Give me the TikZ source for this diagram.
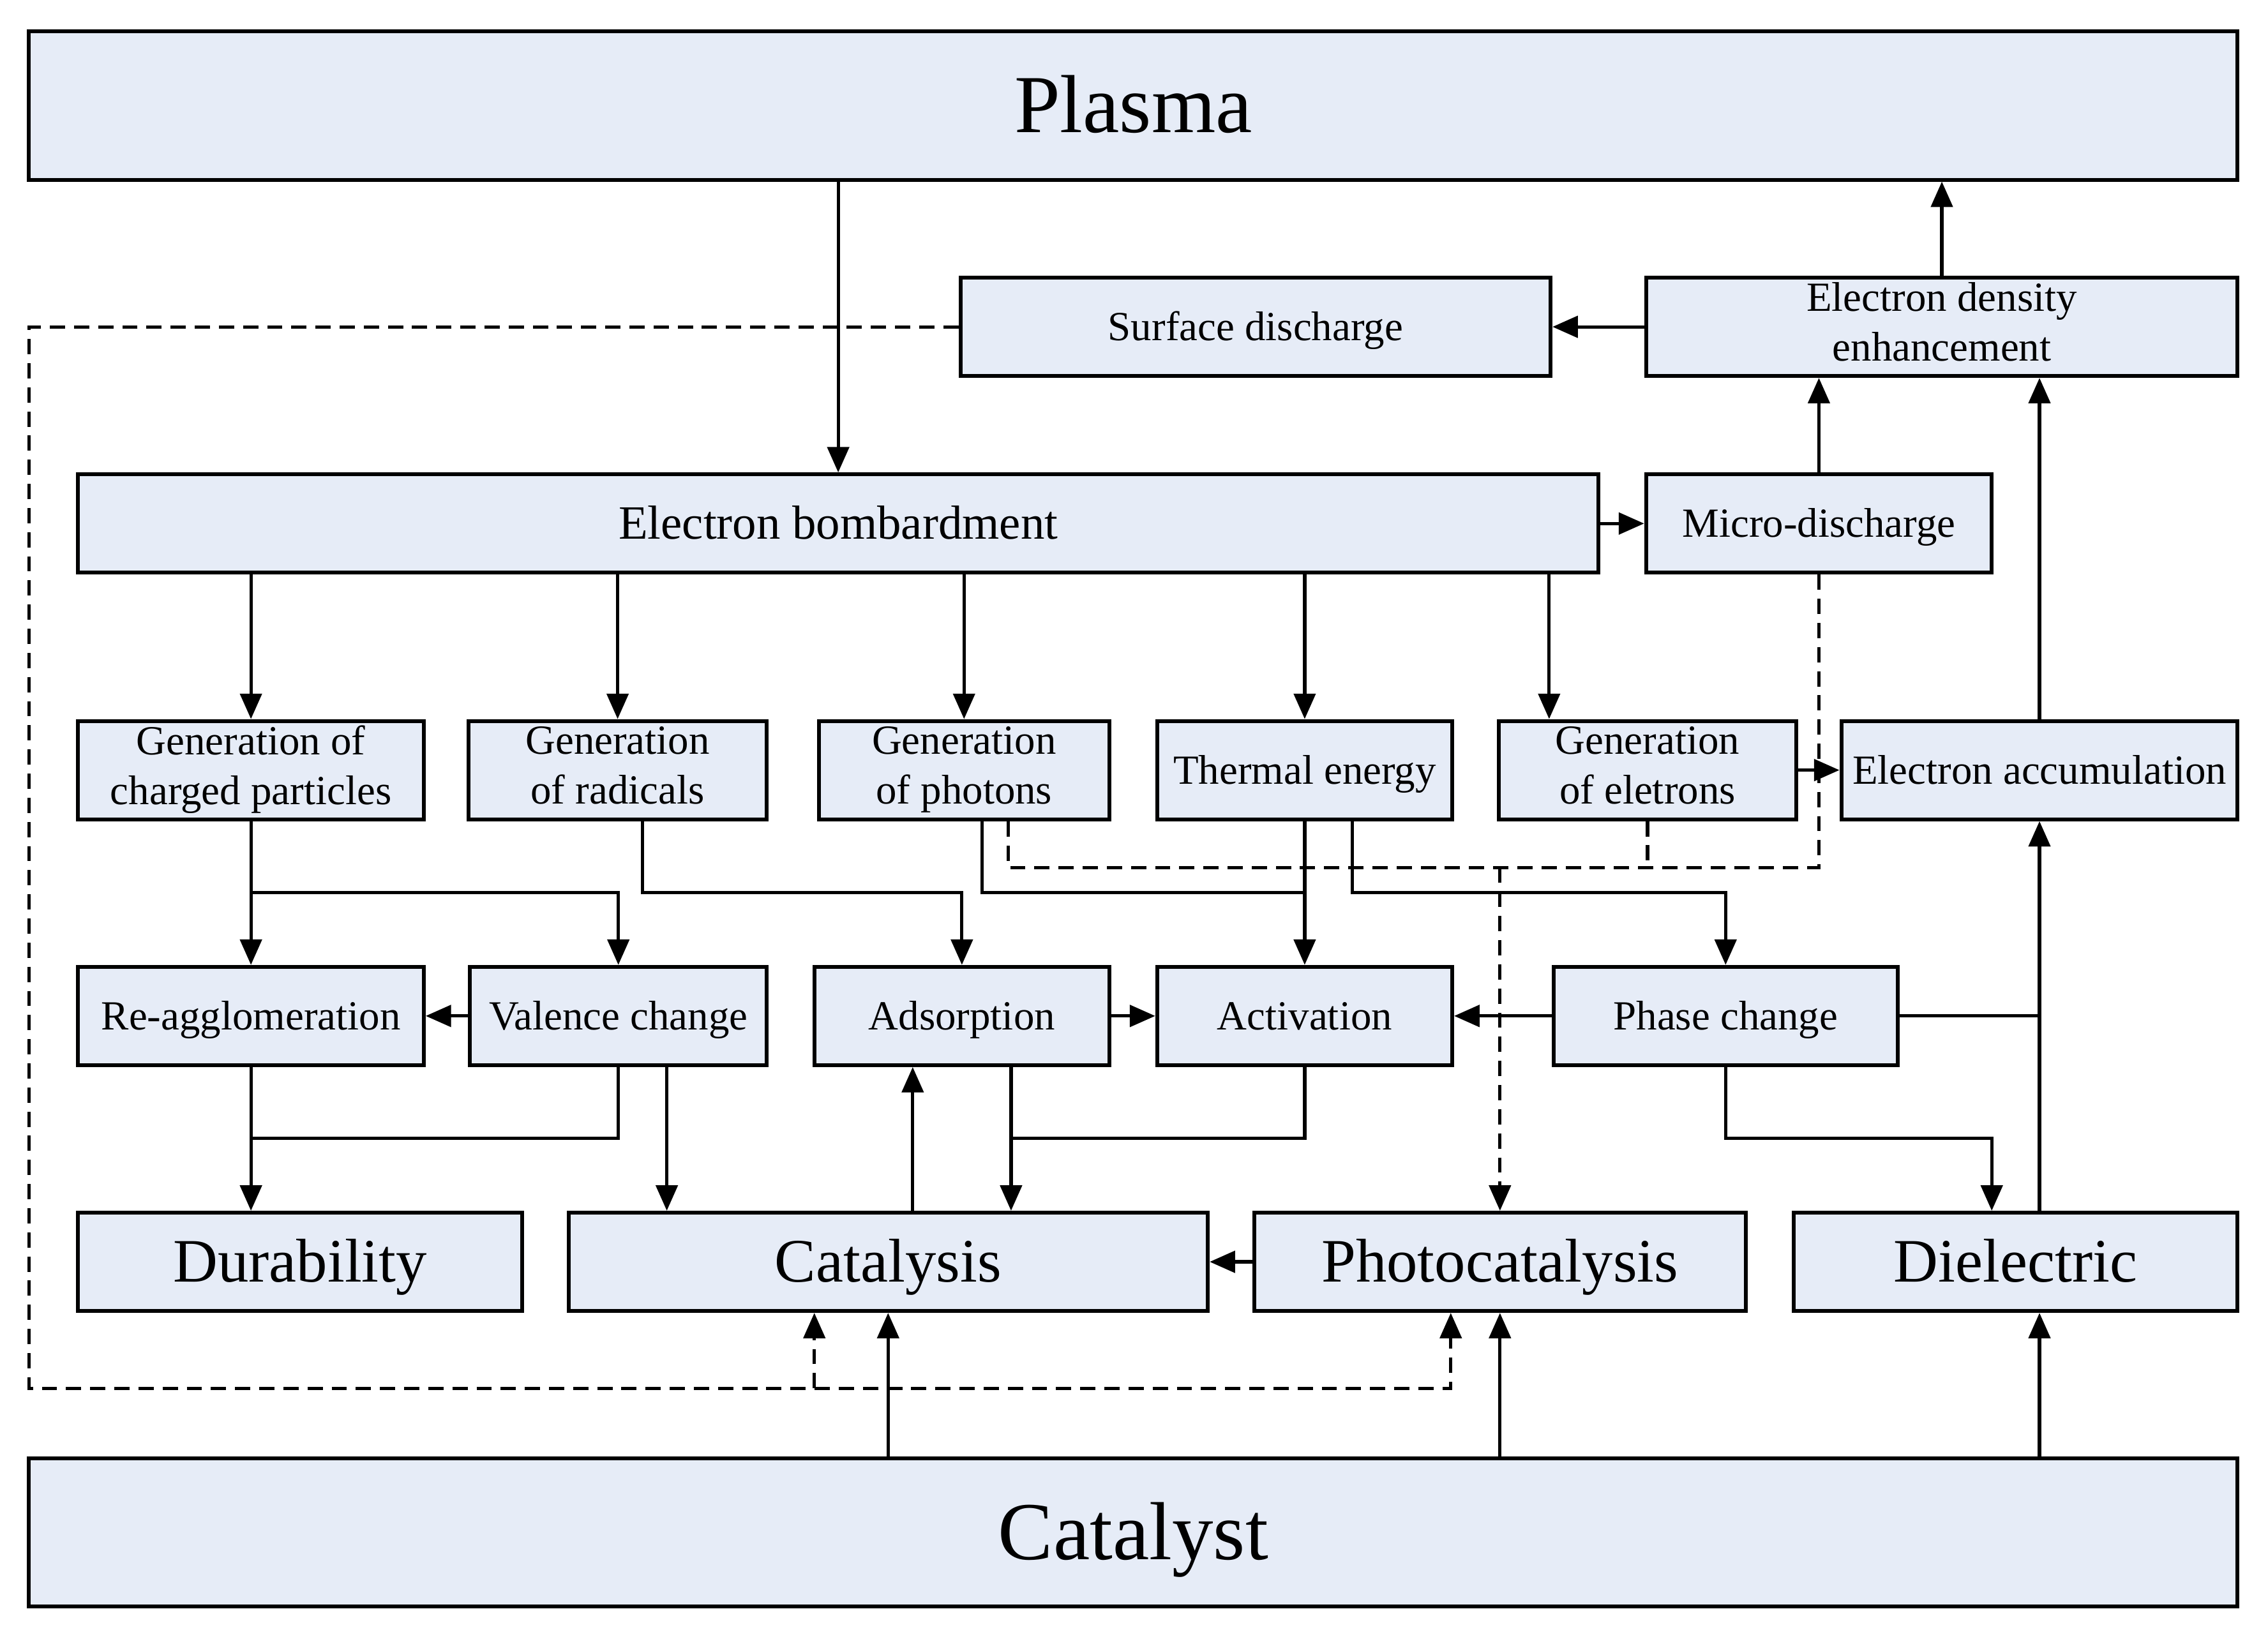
\documentclass[tikz,border=0pt]{standalone}
\usepackage{fontspec}
\setmainfont{Liberation Serif}
\usetikzlibrary{arrows.meta}
\definecolor{boxfill}{RGB}{230,236,247}
\newcommand{\boxstrut}{\rule[-0.24em]{0pt}{1.14em}}

\begin{document}
\begin{tikzpicture}
        [box/.style={rectangle, draw, line width=1.5pt, fill=boxfill, minimum height=1.36cm, inner sep=0pt, align=center, font=\fontsize{16.3}{19.5}\selectfont, execute at begin node=\boxstrut, execute at end node=\boxstrut},
        boxMid/.style={box, font=\fontsize{24.3}{29}\selectfont},
        boxBig/.style={box, minimum height=2.05cm, font=\fontsize{32.4}{38}\selectfont},
        link/.style={line width=1.3pt, >={Triangle[length=10pt, width=8.5pt]}},
        linkDash/.style={link, dash pattern=on 6pt off 3.5pt}]
        \useasboundingbox (0,0) rectangle (31.36,-22.76);

        \node[boxBig, minimum width=30.54cm] (plasma) at (15.67,-1.46) {Plasma};
        \node[box, minimum width=8.16cm] (sdis) at (17.36,-4.52) {Surface discharge};
        \node[box, minimum width=8.18cm] (edens) at (26.85,-4.52) {Electron density\\enhancement};
        \node[box, minimum width=21.02cm, font=\fontsize{18.8}{22}\selectfont] (ebomb) at (11.59,-7.24) {Electron bombardment};
        \node[box, minimum width=4.78cm] (micro) at (25.15,-7.24) {Micro-discharge};

        \node[box, minimum width=4.78cm] (charged) at (3.47,-10.65) {Generation of\\charged particles};
        \node[box, minimum width=4.12cm] (radicals) at (8.54,-10.65) {Generation\\of radicals};
        \node[box, minimum width=4.02cm] (photons) at (13.33,-10.65) {Generation\\of photons};
        \node[box, minimum width=4.08cm] (thermal) at (18.04,-10.65) {Thermal energy};
        \node[box, minimum width=4.12cm] (electrons) at (22.78,-10.65) {Generation\\of eletrons};
        \node[box, minimum width=5.48cm] (accum) at (28.2,-10.65) {Electron accumulation};

        \node[box, minimum width=4.78cm] (reagg) at (3.47,-14.05) {Re-agglomeration};
        \node[box, minimum width=4.10cm] (valence) at (8.55,-14.05) {Valence change};
        \node[box, minimum width=4.08cm] (adsorp) at (13.30,-14.05) {Adsorption};
        \node[box, minimum width=4.08cm] (activ) at (18.04,-14.05) {Activation};
        \node[box, minimum width=4.76cm] (phase) at (23.86,-14.05) {Phase change};

        \node[boxMid, minimum width=6.14cm] (durab) at (4.15,-17.45) {Durability};
        \node[boxMid, minimum width=8.84cm] (catal) at (12.28,-17.45) {Catalysis};
        \node[boxMid, minimum width=6.8cm] (photo) at (20.74,-17.45) {Photocatalysis};
        \node[boxMid, minimum width=6.14cm] (dielec) at (27.87,-17.45) {Dielectric};
        \node[boxBig, minimum width=30.54cm] (catalyst) at (15.67,-21.19) {Catalyst};

        % bends and off-centre ports
        \coordinate (busTop) at (0,-12.0);
        \coordinate (busMid) at (0,-12.34);
        \coordinate (busLow) at (0,-15.74);
        \coordinate (loopL) at (0.4,-19.2);
        \coordinate (eIn) at ([xshift=-1.36cm]electrons.north);
        \coordinate (rOut) at ([xshift=0.34cm]radicals.south);
        \coordinate (pOut) at ([xshift=0.25cm]photons.south);
        \coordinate (pDash) at ([xshift=0.61cm]photons.south);
        \coordinate (tOut) at ([xshift=0.66cm]thermal.south);
        \coordinate (vOut) at ([xshift=0.67cm]valence.south);
        \coordinate (aOut) at ([xshift=0.68cm]adsorp.south);
        \coordinate (cIn) at ([xshift=0.34cm]catal.north);
        \coordinate (dIn) at ([xshift=-0.33cm]dielec.north);
        \coordinate (cDash) at ([xshift=-1.02cm]catal.south);
        \coordinate (phDash) at ([xshift=-0.68cm]photo.south);

        \draw[link, ->] (plasma.south -| ebomb.north) -- (ebomb.north);
        \draw[link, ->] (edens.north) -- (edens.north |- plasma.south);
        \draw[link, ->] (edens.west) -- (sdis.east);
        \draw[link, ->] (ebomb.east) -- (micro.west);
        \draw[link, ->] (micro.north) -- (micro.north |- edens.south);
        \draw[link, ->] (accum.north) -- (accum.north |- edens.south);

        \foreach \n in {charged, radicals, photons, thermal}
            \draw[link, ->] (ebomb.south -| \n.north) -- (\n.north);
        \draw[link, ->] (ebomb.south -| eIn) -- (eIn);
        \draw[link, ->] (electrons.east) -- (accum.west);

        \draw[link, ->] (charged.south) -- (reagg.north);
        \draw[link, ->] (busMid -| charged.south) -| (valence.north);
        \draw[link, ->] (rOut) |- (busMid -| adsorp.north) -- (adsorp.north);
        \draw[link] (pOut) |- (busMid -| thermal.south);
        \draw[link, ->] (thermal.south) -- (activ.north);
        \draw[link, ->] (tOut) |- (busMid -| phase.north) -- (phase.north);
        \draw[link, ->] (valence.west) -- (reagg.east);
        \draw[link, ->] (adsorp.east) -- (activ.west);
        \draw[link, ->] (phase.west) -- (activ.east);
        \draw[link] (phase.east) -- (phase.east -| accum.south);
        \draw[link, ->] (dielec.north -| accum.south) -- (accum.south);

        \draw[link, ->] (reagg.south) -- (reagg.south |- durab.north);
        \draw[link] (valence.south) |- (busLow -| reagg.south);
        \draw[link, ->] (vOut) -- (vOut |- catal.north);
        \draw[link, ->] (aOut) -- (aOut |- catal.north);
        \draw[link] (activ.south) |- (busLow -| aOut);
        \draw[link, ->] (cIn) -- (cIn |- adsorp.south);
        \draw[link, ->] (phase.south) |- (busLow -| dIn) -- (dIn);
        \draw[link, ->] (photo.west) -- (catal.east);

        \draw[link, ->] (catalyst.north -| catal.south) -- (catal.south);
        \draw[link, ->] (catalyst.north -| photo.south) -- (photo.south);
        \draw[link, ->] (catalyst.north -| accum.south) -- (dielec.south -| accum.south);

        % dashed paths
        \draw[linkDash, ->] (sdis.west) -| (loopL) -| (phDash);
        \draw[linkDash, ->] (loopL -| cDash) -- (cDash);
        \draw[linkDash] (micro.south) |- (busTop -| pDash) -- (pDash);
        \draw[linkDash] (electrons.south) -- (busTop -| electrons.south);
        \draw[linkDash, ->] (busTop -| photo.north) -- (photo.north);

    \end{tikzpicture}
\end{document}
